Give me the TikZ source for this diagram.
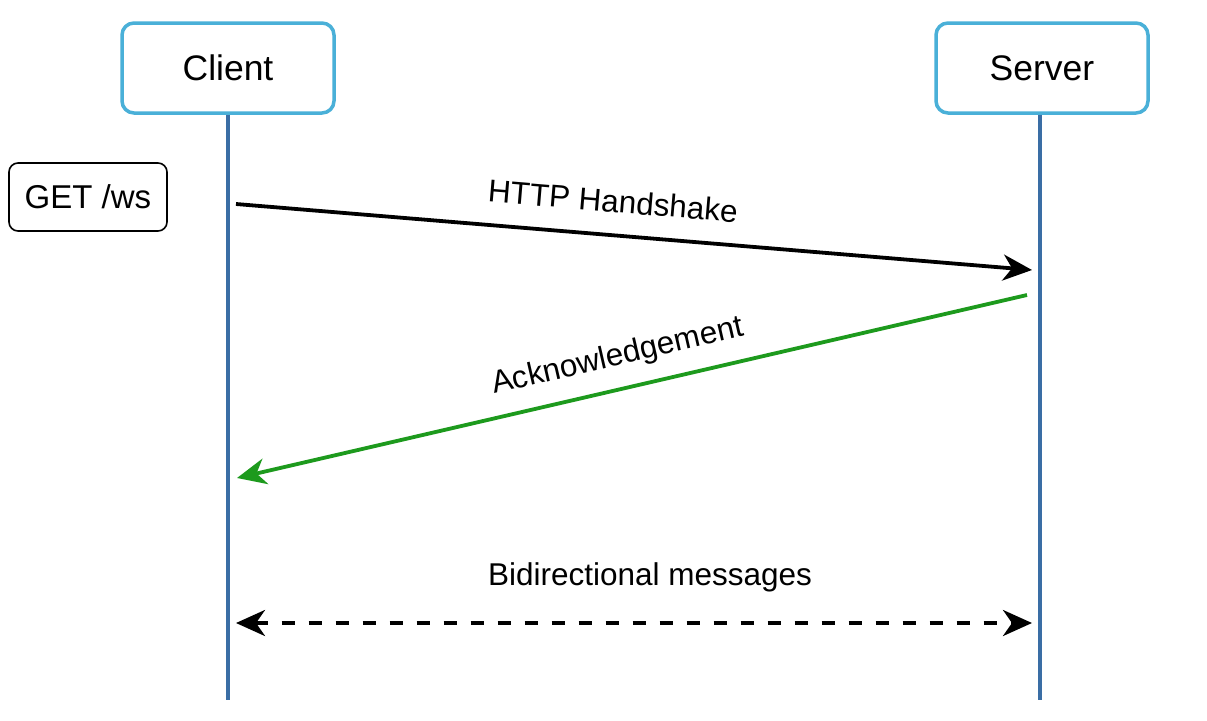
\documentclass[tikz,border=0pt]{standalone}
\usepackage{fontspec}
\setmainfont{Liberation Sans}
\usetikzlibrary{arrows.meta}
\definecolor{boxblue}{HTML}{4AB0D8}
\definecolor{lifeblue}{HTML}{3A6EA5}
\definecolor{ackgreen}{HTML}{1D9A1D}
\begin{document}
\begin{tikzpicture}[x=1pt,y=-1pt,
  actor/.style={draw=boxblue,line width=3.5pt,rounded corners=12pt,minimum width=212pt,minimum height=90pt,inner sep=0pt,font=\fontsize{35.5}{40}\selectfont,fill=white},
  note/.style={draw=black,line width=1.6pt,rounded corners=9pt,minimum width=158pt,minimum height=68pt,inner sep=0pt,font=\fontsize{33}{37}\selectfont},
  lifeline/.style={draw=lifeblue,line width=3.5pt},
  tip/.style={},
  msg/.style={line width=3.8pt,-{Stealth[length=29pt,width=26pt,inset=9pt]}},
  lbl/.style={font=\fontsize{31.5}{35}\selectfont,inner sep=0pt}
]
\useasboundingbox (0,0) rectangle (1207,720);
\fill[white] (0,0) rectangle (1207,720);
% lifelines
\coordinate (cend) at (228,700);
\coordinate (send) at (1040,700);
\node[actor] (client) at (228,68) {Client};
\node[actor] (server) at (1042,68) {Server};
\draw[lifeline] (client.south) -- (cend);
\draw[lifeline] (server.south -| send) -- (send);
% note
\node[note] (get) at (88,197) {GET /ws};
% messages
\coordinate (h1) at (236,204);
\coordinate (h2) at (1032,270);
\coordinate (a1) at (1027,295);
\coordinate (a2) at (237,478);
\coordinate (b1) at (236,623);
\coordinate (b2) at (1032,623);
\draw[msg,black] (h1) -- (h2);
\draw[msg,ackgreen,draw=ackgreen] (a1) -- (a2);
\draw[line width=3.8pt,dash pattern=on 13pt off 14pt,{Stealth[length=29pt,width=26pt,inset=9pt]}-{Stealth[length=29pt,width=26pt,inset=9pt]}] (b1) -- (b2);
% labels
\node[lbl,rotate=-4.74] (hl) at (613,201) {HTTP Handshake};
\node[lbl,rotate=13.03] (al) at (618,357) {Acknowledgement};
\node[lbl] (bl) at (650,577) {Bidirectional messages};
\end{tikzpicture}
\end{document}
